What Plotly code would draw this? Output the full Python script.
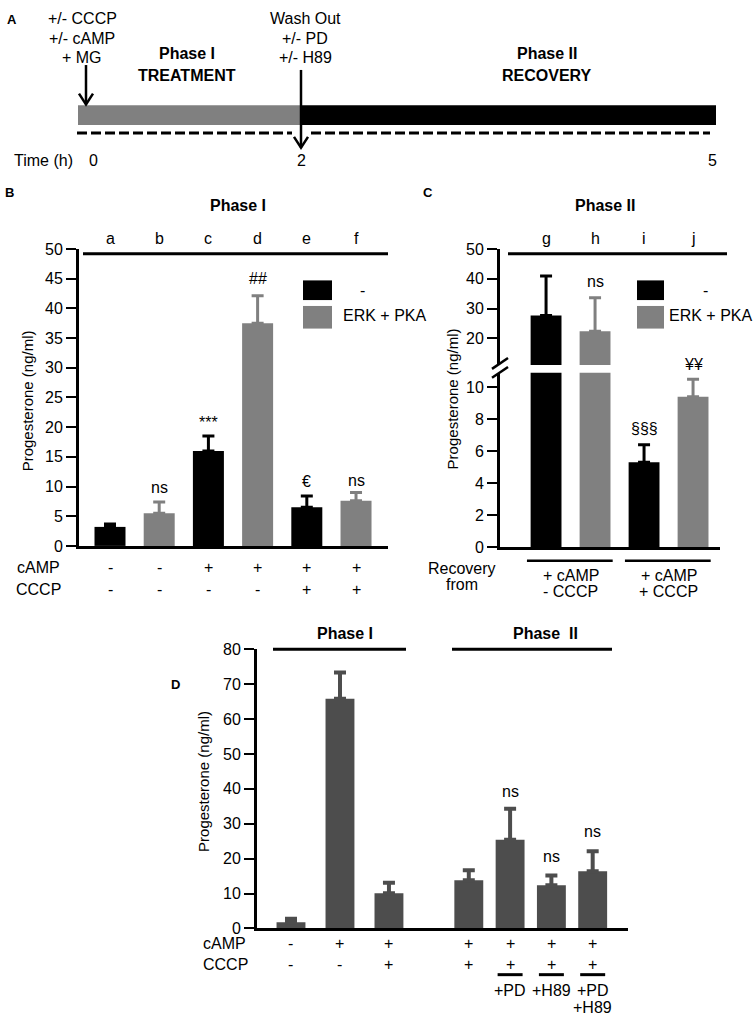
import plotly.graph_objects as go

W, H = 754, 1023
FONT = "Liberation Sans, Arial, sans-serif"
BLACK, GREY, DGREY = "#000000", "#808080", "#4d4d4d"
FS = 16      # general text size
TFS = 16     # tick label size

# ---------------- data ----------------
# Panel A (timeline)
a_start = ["+/- CCCP", "+/- cAMP", "+ MG"]
a_wash = ["Wash Out", "+/- PD", "+/- H89"]
a_phase = ["Phase I", "Phase II"]
a_phase_sub = ["TREATMENT", "RECOVERY"]
time_labels = ["0", "2", "5"]

# Panel B (Phase I)
b_labels = ["a", "b", "c", "d", "e", "f"]
b_values = [3.2, 5.5, 16.0, 37.5, 6.5, 7.6]
b_err = [0.5, 1.9, 2.5, 4.6, 1.9, 1.4]
b_series = ["-", "ERK + PKA", "-", "ERK + PKA", "-", "ERK + PKA"]
b_camp = ["-", "-", "+", "+", "+", "+"]
b_cccp = ["-", "-", "-", "-", "+", "+"]
b_sig = ["", "ns", "***", "##", "€", "ns"]

# Panel C (Phase II)
c_labels = ["g", "h", "i", "j"]
c_values = [27.7, 22.4, 5.3, 9.4]
c_err = [13.2, 11.2, 1.1, 1.1]
c_series = ["-", "ERK + PKA", "-", "ERK + PKA"]
c_sig = ["", "ns", "§§§", "¥¥"]
c_recovery = [["+ cAMP", "- CCCP"], ["+ cAMP", "+ CCCP"]]

# Panel D
d_values = [1.8, 65.8, 10.1, 13.8, 25.4, 12.4, 16.4]
d_err = [1.0, 7.5, 3.0, 2.9, 8.9, 2.8, 5.7]
d_phase = ["Phase I"] * 3 + ["Phase II"] * 4
d_camp = ["-", "+", "+", "+", "+", "+", "+"]
d_cccp = ["-", "-", "+", "+", "+", "+", "+"]
d_inhib = ["", "", "", "", ["+PD"], ["+H89"], ["+PD", "+H89"]]
d_sig = ["", "", "", "", "ns", "ns", "ns"]

# ---------------- helpers ----------------
def px(x):
    return x / W

def py(y):
    return 1 - y / H

ann = []
shapes = []

def txt(x, y, text, xref="paper", size=FS, bold=False, xanchor="center", angle=0):
    xx = px(x) if xref == "paper" else x
    ann.append(dict(x=xx, y=py(y), xref=xref, yref="paper", text=f"<b>{text}</b>" if bold else text,
                    showarrow=False, xanchor=xanchor, yanchor="middle", textangle=angle,
                    borderpad=0, font=dict(size=size, color="black", family=FONT)))

def line(x0, y0, x1, y1, width=3, color="black", dash=None, xref="paper"):
    X0 = px(x0) if xref == "paper" else x0
    X1 = px(x1) if xref == "paper" else x1
    d = dict(type="line", xref=xref, yref="paper", x0=X0, y0=py(y0), x1=X1, y1=py(y1),
             line=dict(color=color, width=width))
    if dash:
        d["line"]["dash"] = dash
    shapes.append(d)

def rect(x0, y0, x1, y1, color):
    shapes.append(dict(type="rect", xref="paper", yref="paper", x0=px(x0), y0=py(y1), x1=px(x1), y1=py(y0),
                       fillcolor=color, line=dict(width=0)))

def path(points, width=2.5):
    p = "M " + " L ".join(f"{px(a)},{py(b)}" for a, b in points)
    shapes.append(dict(type="path", xref="paper", yref="paper", path=p,
                       line=dict(color="black", width=width)))

fig = go.Figure()

def err(vals):
    return dict(type="data", symmetric=False, array=vals, arrayminus=[0] * len(vals),
                thickness=3, width=6)

color_of = {"-": BLACK, "ERK + PKA": GREY}

# ---------------- Panel A ----------------
txt(12, 12, "A", bold=True, size=13)
rect(78, 99, 300, 119, GREY)
rect(300, 99, 716, 119, BLACK)
line(77, 127, 292, 127, width=3, dash="10px,4px")
line(311, 127, 710, 127, width=3, dash="10px,4px")
line(86, 58, 86, 98, width=2.5)
path([(79, 87), (86, 98), (93, 87)])
line(301, 63, 301, 142, width=2.5)
path([(294, 131), (301, 142), (308, 131)])
for i, t in enumerate(a_start):
    txt(82, [11, 31, 50][i], t)
for i, t in enumerate(a_wash):
    txt(305, [11, 31, 50][i], t)
for i, (p, s) in enumerate(zip(a_phase, a_phase_sub)):
    cx = [187, 547][i]
    txt(cx, 46, p, bold=True)
    txt(cx, 69, s, bold=True)
txt(43, 155, "Time (h)")
for t, xp in zip(time_labels, [93, 301, 712]):
    txt(xp, 155, t)

# ---------------- Panel B ----------------
b_pos = list(range(len(b_values)))
for s in ["-", "ERK + PKA"]:
    idx = [i for i, v in enumerate(b_series) if v == s]
    fig.add_trace(go.Bar(x=[b_pos[i] for i in idx], y=[b_values[i] for i in idx], width=0.63,
                         marker=dict(color=color_of[s], line=dict(width=0)),
                         error_y=dict(err([b_err[i] for i in idx]), color=color_of[s]),
                         xaxis="x", yaxis="y", name=s, showlegend=False))
txt(9, 188, "B", bold=True, size=13)
txt(238, 201, "Phase I", bold=True)
for i, l in enumerate(b_labels):
    txt(b_pos[i], 234, l, xref="x")
line(83, 250, 388, 250, width=3)
sig_y_b = [0, 488, 421, 275, 482, 480]
for i, s in enumerate(b_sig):
    if s:
        txt(b_pos[i], sig_y_b[i], s, xref="x")
for i in range(len(b_values)):
    txt(b_pos[i], 569, b_camp[i], xref="x")
    txt(b_pos[i], 591, b_cccp[i], xref="x")
txt(38, 569, "cAMP")
txt(38, 591, "CCCP")
txt(27, 400, "Progesterone (ng/ml)", angle=-90, size=15)
rect(303, 277, 332, 297, BLACK)
rect(303, 303, 332, 326, GREY)
txt(362, 287, "-")
txt(342, 313, "ERK + PKA", xanchor="left")

# ---------------- Panel C ----------------
c_pos = list(range(len(c_values)))
for ax in [("x2", "y2"), ("x3", "y3")]:
    for s in ["-", "ERK + PKA"]:
        idx = [i for i, v in enumerate(c_series) if v == s]
        fig.add_trace(go.Bar(x=[c_pos[i] for i in idx], y=[c_values[i] for i in idx], width=0.63,
                             marker=dict(color=color_of[s], line=dict(width=0)),
                             error_y=dict(err([c_err[i] for i in idx]), color=color_of[s]),
                             xaxis=ax[0], yaxis=ax[1], name=s, showlegend=False))
txt(428, 188, "C", bold=True, size=13)
txt(605, 201, "Phase II", bold=True)
for i, l in enumerate(c_labels):
    txt(c_pos[i], 234, l, xref="x2")
line(508, 250, 727, 250, width=3)
sig_y_c = [0, 278, 428, 363]
for i, s in enumerate(c_sig):
    if s:
        txt(c_pos[i], sig_y_c[i], s, xref="x2")
line(492, 367, 508, 356, width=2.5)
line(492, 376, 508, 365, width=2.5)
txt(462, 570, "Recovery")
txt(462, 586, "from")
for g, (t1, t2) in enumerate(c_recovery):
    a, b = c_pos[2 * g], c_pos[2 * g + 1]
    line(a - 0.39, 562, b + 0.36, 562, width=2.5, xref="x2")
    txt((a + b) / 2, 577, t1, xref="x2")
    txt((a + b) / 2, 593, t2, xref="x2")
txt(452, 398, "Progesterone (ng/ml)", angle=-90, size=15)
rect(637, 277, 664, 297, BLACK)
rect(637, 303, 664, 326, GREY)
txt(705, 287, "-")
txt(668, 313, "ERK + PKA", xanchor="left")

# ---------------- Panel D ----------------
d_pos = [i for i in range(3)] + [3.63 + 0.843 * j for j in range(4)]
fig.add_trace(go.Bar(x=d_pos, y=d_values, width=0.59,
                     marker=dict(color=DGREY, line=dict(width=0)),
                     error_y=dict(type="data", symmetric=False, array=d_err, arrayminus=[0] * len(d_err),
                                  thickness=4, width=6, color=DGREY),
                     xaxis="x4", yaxis="y4", showlegend=False))
txt(175, 688, "D", bold=True, size=13)
txt(345, 636, "Phase I", bold=True)
txt(545, 636, "Phase  II", bold=True)
line(273, 652, 406, 652, width=3)
line(452, 652, 612, 652, width=3)
sig_y_d = [0, 0, 0, 0, 797, 863, 837]
for i, s in enumerate(d_sig):
    if s:
        txt(d_pos[i], sig_y_d[i], s, xref="x4")
for i in range(len(d_values)):
    txt(d_pos[i], 951, d_camp[i], xref="x4")
    txt(d_pos[i], 973, d_cccp[i], xref="x4")
    if d_inhib[i]:
        line(d_pos[i] - 0.255, 983, d_pos[i] + 0.255, 983, width=3, xref="x4")
        for k, t in enumerate(d_inhib[i]):
            txt(d_pos[i], 999 + 17 * k, t, xref="x4")
txt(224, 951, "cAMP")
txt(225, 973, "CCCP")
txt(204, 787, "Progesterone (ng/ml)", angle=-90, size=15)

# ---------------- axes ----------------
yst = dict(showline=True, linecolor="black", linewidth=3, ticks="outside", ticklen=10, tickwidth=2,
           tickcolor="black", showgrid=False, zeroline=False,
           tickfont=dict(size=TFS, family=FONT, color="black"))
xst = dict(showline=True, linecolor="black", linewidth=3, ticks="", showticklabels=False,
           showgrid=False, zeroline=False)

fig.update_layout(
    width=W, height=H, margin=dict(l=0, r=0, t=0, b=0),
    paper_bgcolor="white", plot_bgcolor="white",
    font=dict(family=FONT, size=FS, color="black"),
    showlegend=False,
    xaxis=dict(xst, domain=[px(79), px(388)], range=[-0.63, 5.65], anchor="y"),
    yaxis=dict(yst, domain=[py(547), py(245)], range=[0, 50], tickvals=list(range(0, 51, 5)), anchor="x"),
    xaxis2=dict(xst, domain=[px(500), px(720)], range=[-0.94, 3.55], anchor="y2"),
    yaxis2=dict(yst, domain=[py(548), py(371)], range=[0, 10.9], tickvals=list(range(0, 11, 2)), anchor="x2"),
    xaxis3=dict(xst, domain=[px(500), px(720)], range=[-0.94, 3.55], anchor="y3", visible=False),
    yaxis3=dict(yst, domain=[py(363), py(245)], range=[11.1, 50], tickvals=[20, 30, 40, 50], anchor="x3"),
    xaxis4=dict(xst, domain=[px(257), px(628)], range=[-0.694, 6.88], anchor="y4"),
    yaxis4=dict(yst, domain=[py(936), py(652)], range=[0, 80], tickvals=list(range(0, 81, 10)), anchor="x4"),
    annotations=ann, shapes=shapes,
)

fig.write_html("out.html", config={"displayModeBar": False},
               post_script="document.body.style.margin='0';document.body.style.overflow='hidden';")
